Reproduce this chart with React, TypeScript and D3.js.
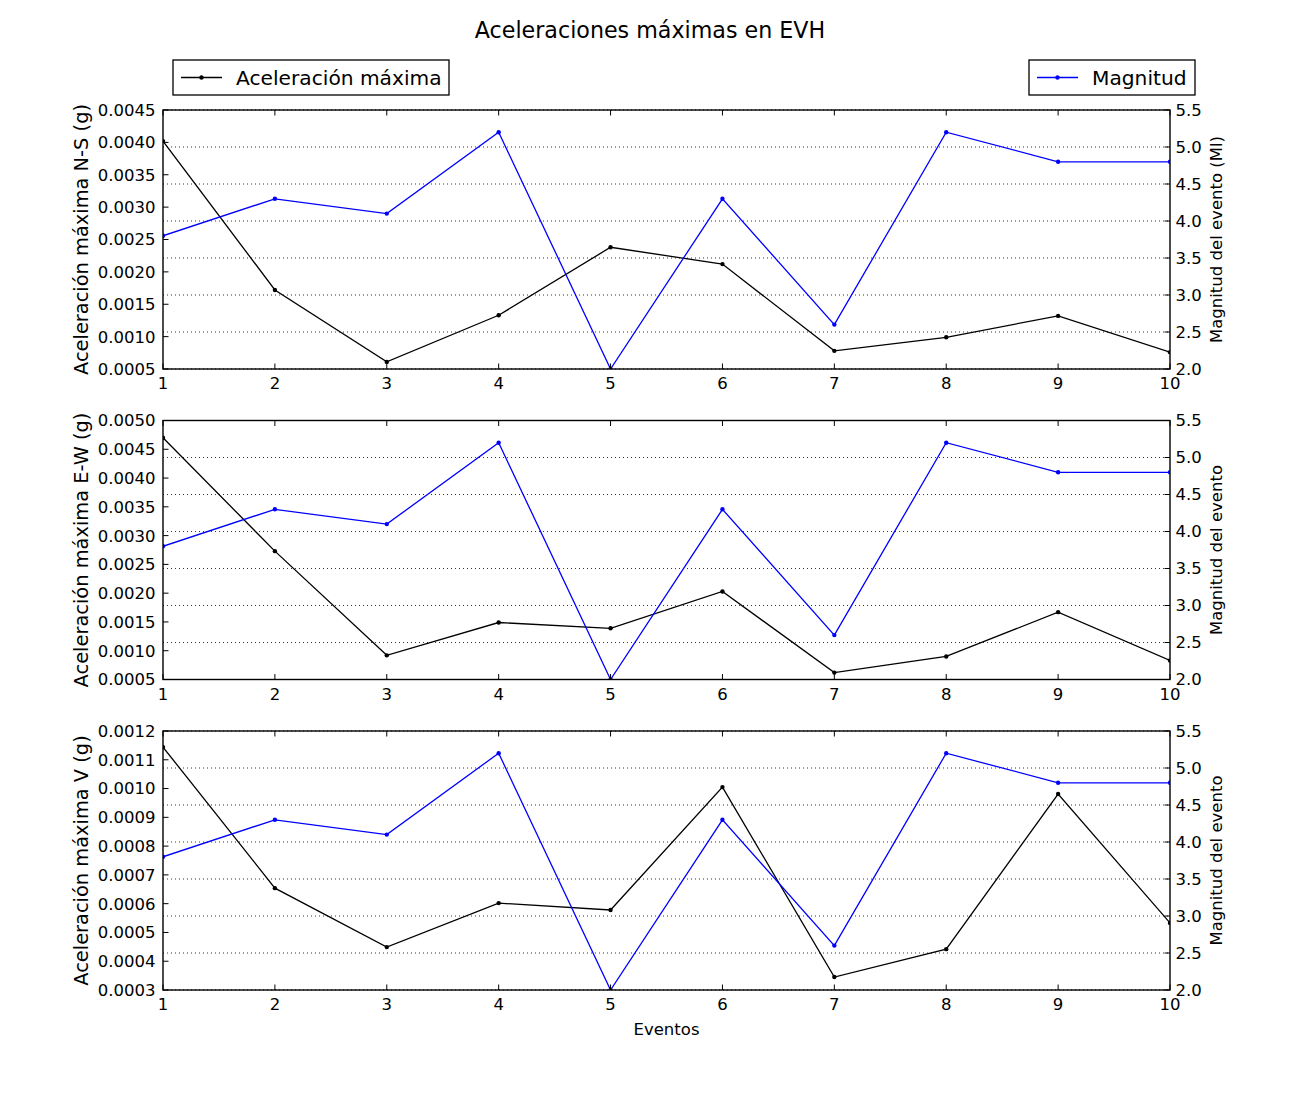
import { useEffect, useRef } from "react";
import * as d3 from "d3";

// datos
const eventos = [1, 2, 3, 4, 5, 6, 7, 8, 9, 10];
const magnitud = [3.8, 4.3, 4.1, 5.2, 2.0, 4.3, 2.6, 5.2, 4.8, 4.8];
const accNS = [0.00402, 0.00172, 0.00061, 0.00133, 0.00238, 0.00212, 0.00078, 0.00099, 0.00132, 0.00076];
const accEW = [0.0047, 0.00273, 0.00092, 0.00149, 0.00139, 0.00203, 0.00062, 0.0009, 0.00167, 0.00083];
const accV = [0.001144, 0.000654, 0.000449, 0.000602, 0.000578, 0.001005, 0.000345, 0.000442, 0.000981, 0.000533];

const ticksNS = [0.0005, 0.001, 0.0015, 0.002, 0.0025, 0.003, 0.0035, 0.004, 0.0045];
const ticksEW = [0.0005, 0.001, 0.0015, 0.002, 0.0025, 0.003, 0.0035, 0.004, 0.0045, 0.005];
const ticksV = [0.0003, 0.0004, 0.0005, 0.0006, 0.0007, 0.0008, 0.0009, 0.001, 0.0011, 0.0012];
const ticksMag = [2.0, 2.5, 3.0, 3.5, 4.0, 4.5, 5.0, 5.5];

const labelsLeft = ["Aceleración máxima N-S (g)", "Aceleración máxima E-W (g)", "Aceleración máxima V (g)"];
const labelsRight = ["Magnitud del evento (Ml)", "Magnitud del evento", "Magnitud del evento"];

const FONT = "DejaVu Sans, sans-serif";

export default function App() {
  const ref = useRef<SVGSVGElement | null>(null);

  useEffect(() => {
    const svg = d3.select(ref.current);
    svg.selectAll("*").remove();

    const W = 1300;
    const H = 1100;
    const left = 163;
    const right = 1170;
    const tops = [110, 420.5, 731];
    const ph = 259;

    svg.append("rect").attr("width", W).attr("height", H).attr("fill", "#fff");

    const x = d3.scaleLinear().domain([1, 10]).range([left, right]);

    const panels = [
      { acc: accNS, ticks: ticksNS },
      { acc: accEW, ticks: ticksEW },
      { acc: accV, ticks: ticksV },
    ];

    panels.forEach((p, i) => {
      const top = tops[i];
      const bottom = top + ph;
      const yL = d3
        .scaleLinear()
        .domain([p.ticks[0], p.ticks[p.ticks.length - 1]])
        .range([bottom, top]);
      const yR = d3.scaleLinear().domain([2.0, 5.5]).range([bottom, top]);

      const clipId = `clip${i}`;
      svg
        .append("clipPath")
        .attr("id", clipId)
        .append("rect")
        .attr("x", left)
        .attr("y", top)
        .attr("width", right - left)
        .attr("height", ph);

      const g = svg.append("g");
      const plot = g.append("g").attr("clip-path", `url(#${clipId})`);

      // serie de aceleración (eje izquierdo)
      const lineL = d3
        .line<number>()
        .x((_, j) => x(eventos[j]))
        .y((d) => yL(d));
      plot
        .append("path")
        .attr("d", lineL(p.acc) as string)
        .attr("fill", "none")
        .attr("stroke", "#000")
        .attr("stroke-width", 1.3);
      plot
        .append("g")
        .selectAll("circle")
        .data(p.acc)
        .join("circle")
        .attr("cx", (_, j) => x(eventos[j]))
        .attr("cy", (d) => yL(d))
        .attr("r", 2.2)
        .attr("fill", "#000");

      // grid del eje gemelo
      g.append("g")
        .selectAll("line")
        .data(ticksMag)
        .join("line")
        .attr("x1", left)
        .attr("x2", right)
        .attr("y1", (d) => yR(d))
        .attr("y2", (d) => yR(d))
        .attr("stroke", "#000")
        .attr("stroke-width", 0.8)
        .attr("stroke-dasharray", "1,3");

      // magnitud (eje derecho)
      const lineR = d3
        .line<number>()
        .x((_, j) => x(eventos[j]))
        .y((d) => yR(d));
      const plot2 = g.append("g").attr("clip-path", `url(#${clipId})`);
      plot2
        .append("path")
        .attr("d", lineR(magnitud) as string)
        .attr("fill", "none")
        .attr("stroke", "#0000ff")
        .attr("stroke-width", 1.3);
      plot2
        .append("g")
        .selectAll("circle")
        .data(magnitud)
        .join("circle")
        .attr("cx", (_, j) => x(eventos[j]))
        .attr("cy", (d) => yR(d))
        .attr("r", 2.2)
        .attr("fill", "#0000ff");

      // marco
      g.append("rect")
        .attr("x", left)
        .attr("y", top)
        .attr("width", right - left)
        .attr("height", ph)
        .attr("fill", "none")
        .attr("stroke", "#000")
        .attr("stroke-width", 1.4);

      const tl = 5.5;
      // ticks x (abajo y arriba, hacia dentro)
      const xt = g.append("g");
      eventos.forEach((e) => {
        xt.append("line")
          .attr("x1", x(e)).attr("x2", x(e))
          .attr("y1", bottom).attr("y2", bottom - tl)
          .attr("stroke", "#000").attr("stroke-width", 1);
        xt.append("line")
          .attr("x1", x(e)).attr("x2", x(e))
          .attr("y1", top).attr("y2", top + tl)
          .attr("stroke", "#000").attr("stroke-width", 1);
        xt.append("text")
          .attr("x", x(e))
          .attr("y", bottom + 20)
          .attr("text-anchor", "middle")
          .attr("font-family", FONT)
          .attr("font-size", 16.5)
          .text(String(e));
      });

      // ticks izquierda
      p.ticks.forEach((t) => {
        g.append("line")
          .attr("x1", left).attr("x2", left + tl)
          .attr("y1", yL(t)).attr("y2", yL(t))
          .attr("stroke", "#000").attr("stroke-width", 1);
        g.append("text")
          .attr("x", left - 7.5)
          .attr("y", yL(t))
          .attr("dy", "0.36em")
          .attr("text-anchor", "end")
          .attr("font-family", FONT)
          .attr("font-size", 16.5)
          .text(t.toFixed(4));
      });

      // ticks derecha
      ticksMag.forEach((t) => {
        g.append("line")
          .attr("x1", right).attr("x2", right - tl)
          .attr("y1", yR(t)).attr("y2", yR(t))
          .attr("stroke", "#000").attr("stroke-width", 1);
        g.append("text")
          .attr("x", right + 5.5)
          .attr("y", yR(t))
          .attr("dy", "0.36em")
          .attr("text-anchor", "start")
          .attr("font-family", FONT)
          .attr("font-size", 16.5)
          .text(t.toFixed(1));
      });

      const cy = (top + bottom) / 2;
      g.append("text")
        .attr("transform", `translate(81,${cy}) rotate(-90)`)
        .attr("dy", "0.35em")
        .attr("text-anchor", "middle")
        .attr("font-family", FONT)
        .attr("font-size", 19.4)
        .text(labelsLeft[i]);
      g.append("text")
        .attr("transform", `translate(1216,${cy}) rotate(-90)`)
        .attr("dy", "0.35em")
        .attr("text-anchor", "middle")
        .attr("font-family", FONT)
        .attr("font-size", 16.5)
        .text(labelsRight[i]);
    });

    // título
    svg
      .append("text")
      .attr("x", 650)
      .attr("y", 38)
      .attr("text-anchor", "middle")
      .attr("font-family", FONT)
      .attr("font-size", 22.2)
      .text("Aceleraciones máximas en EVH");

    svg
      .append("text")
      .attr("x", (left + right) / 2)
      .attr("y", 1035)
      .attr("text-anchor", "middle")
      .attr("font-family", FONT)
      .attr("font-size", 16.5)
      .text("Eventos");

    // leyendas
    const legends = [
      { x0: 173, x1: 449, color: "#000", label: "Aceleración máxima" },
      { x0: 1029, x1: 1195, color: "#0000ff", label: "Magnitud" },
    ];
    legends.forEach((l) => {
      const lg = svg.append("g");
      lg.append("rect")
        .attr("x", l.x0)
        .attr("y", 60)
        .attr("width", l.x1 - l.x0)
        .attr("height", 35)
        .attr("fill", "#fff")
        .attr("stroke", "#000")
        .attr("stroke-width", 1.3);
      lg.append("line")
        .attr("x1", l.x0 + 8)
        .attr("x2", l.x0 + 49)
        .attr("y1", 77.5)
        .attr("y2", 77.5)
        .attr("stroke", l.color)
        .attr("stroke-width", 1.3);
      lg.append("circle")
        .attr("cx", l.x0 + 28.5)
        .attr("cy", 77.5)
        .attr("r", 2.2)
        .attr("fill", l.color);
      lg.append("text")
        .attr("x", l.x0 + 63)
        .attr("y", 77.5)
        .attr("dy", "0.36em")
        .attr("font-family", FONT)
        .attr("font-size", 20.2)
        .text(l.label);
    });
  }, []);

  return (
    <svg
      ref={ref}
      width={1300}
      height={1100}
      style={{ position: "absolute", left: 0, top: 0 }}
    />
  );
}
